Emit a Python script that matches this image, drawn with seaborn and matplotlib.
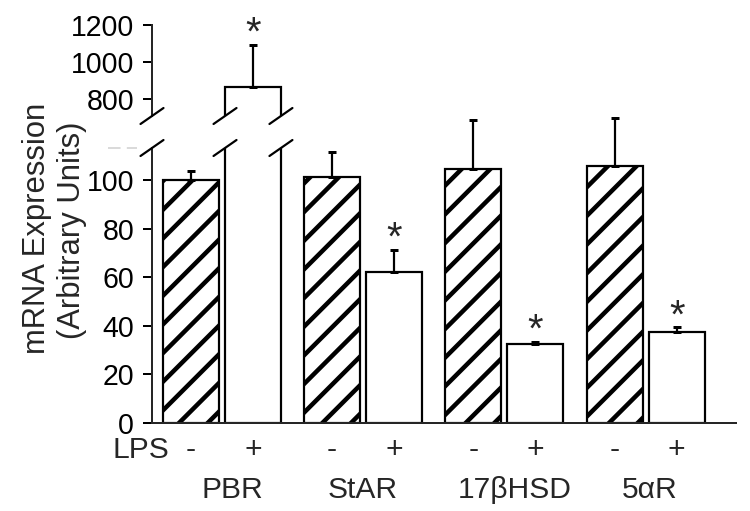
import numpy as np
import pandas as pd
import matplotlib
matplotlib.use('Agg')
import matplotlib.pyplot as plt
from matplotlib.lines import Line2D
import seaborn as sns

genes = ['PBR', 'StAR', '17βHSD', '5αR']
lps_levels = ['-', '+']
control = [100.0, 101.4, 104.8, 105.8]
control_err = [4.1, 10.2, 20.0, 20.0]
treated = [864.0, 62.4, 32.5, 37.6]
treated_err = [228.0, 9.0, 0.8, 1.7]
significant = [True, True, True, True]
low_ticks = [0, 20, 40, 60, 80, 100]
high_ticks = [800, 1000, 1200]

# dpi chosen so the '/' hatch gets the same spacing as the original
DPI = 86
W, H = 750, 511


def px(v):
    # pixels -> points
    return v * 72.0 / DPI


sns.set_style('ticks')
plt.rcParams['font.family'] = ['Liberation Sans', 'DejaVu Sans']
plt.rcParams['hatch.linewidth'] = px(4.5)
plt.rcParams['hatch.color'] = 'black'

df = pd.DataFrame({
    'gene': genes * 2,
    'LPS': ['-'] * 4 + ['+'] * 4,
    'value': control + treated,
})
errs = control_err + treated_err
stars = [False] * 4 + significant

fig = plt.figure(figsize=(W / DPI, H / DPI), dpi=DPI)
x0, x1 = 152 / W, 736 / W
ax = fig.add_axes([x0, 1 - 422.7 / H, x1 - x0, (422.7 - 148) / H])
ax_top = fig.add_axes([x0, 1 - 116 / H, x1 - x0, (116 - 25) / H])

LW = px(2.2)
for a in (ax, ax_top):
    sns.barplot(data=df, x='gene', y='value', hue='LPS', order=genes,
                hue_order=lps_levels, palette=['white', 'white'],
                edgecolor='black', linewidth=LW, width=0.88, gap=0.1,
                errorbar=None, legend=False, ax=a)
    for p in a.containers[0]:
        p.set_hatch('/')
    a.set_xlim(-0.495, 3.64)
    a.set_xlabel('')
    a.set_ylabel('')

ax.set_ylim(0, 113.4)
ax_top.set_ylim(708, 1200)

bars = list(ax.containers[0]) + list(ax.containers[1])

for i, p in enumerate(bars):
    xc = p.get_x() + p.get_width() / 2
    v = df['value'][i]
    e = errs[i]
    target = ax if v < 200 else ax_top
    eb = target.errorbar([xc], [v], yerr=[[0], [e]], fmt='none', ecolor='black',
                         elinewidth=px(2.2), capsize=px(4), capthick=px(3))
    for art in eb.get_children():
        art.set_clip_on(False)
    if stars[i]:
        target.annotate('*', xy=(xc, v + e), xytext=(0, px(11)),
                        textcoords='offset points', ha='center', va='center',
                        fontsize=px(40), clip_on=False)

# spines and ticks
for a in (ax, ax_top):
    sns.despine(ax=a, top=True, right=True)
    a.spines['left'].set_linewidth(px(2))
    a.tick_params(axis='y', length=px(9), width=px(2), pad=px(9),
                  labelsize=px(28.5), colors='black')
    a.tick_params(axis='x', length=0, labelbottom=False)
ax.spines['bottom'].set_linewidth(px(2))
ax_top.spines['bottom'].set_visible(False)
ax.set_yticks(low_ticks)
ax_top.set_yticks(high_ticks)

# LPS row and gene names
fs = px(30)
for i, p in enumerate(bars):
    xc = p.get_x() + p.get_width() / 2
    ax.annotate(df['LPS'][i], xy=(xc, 0), xycoords=ax.get_xaxis_transform(),
                xytext=(0, -px(35)), textcoords='offset points',
                ha='center', va='baseline', fontsize=fs, annotation_clip=False)
name_nudge = [10, 0, 10, 4]
for k, g in enumerate(genes):
    ax.annotate(g, xy=(k, 0), xycoords=ax.get_xaxis_transform(),
                xytext=(px(name_nudge[k]), -px(75.3)), textcoords='offset points',
                ha='center', va='baseline', fontsize=fs, annotation_clip=False)
fig.text(112 / W, 1 - 458 / H, 'LPS', ha='left', va='baseline', fontsize=fs)

# y label (two lines)
fig.text(37 / W, 1 - 228 / H, 'mRNA Expression', rotation=90, ha='center',
         va='center', fontsize=px(31))
fig.text(72 / W, 1 - 230 / H, '(Arbitrary Units)', rotation=90, ha='center',
         va='center', fontsize=px(31))

# axis break marks
fig.canvas.draw()
to_fig = fig.transFigure.inverted()
pbr = bars[4]
edge_x = [ax.get_position().x0 * W,
          ax.transData.transform((pbr.get_x(), 0))[0],
          ax.transData.transform((pbr.get_x() + pbr.get_width(), 0))[0]]
for xe in edge_x:
    for ye in (148, 116):
        (fx0, fy0) = to_fig.transform((xe - 11.5, H - ye - 8))
        (fx1, fy1) = to_fig.transform((xe + 11.5, H - ye + 8))
        fig.add_artist(Line2D([fx0, fx1], [fy0, fy1], color='black',
                              linewidth=px(2.2)))

fig.add_artist(Line2D([108 / W, 137 / W], [1 - 148 / H, 1 - 148 / H],
                      color='#cfcfcf', linewidth=px(1.5), dashes=(px(10), px(5))))

fig.savefig('out.png', dpi=DPI, facecolor='white')
